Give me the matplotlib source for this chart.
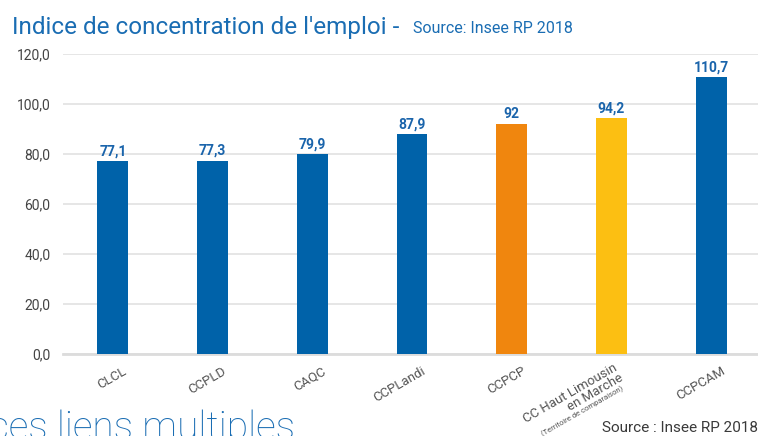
import matplotlib
matplotlib.use("Agg")
import matplotlib.pyplot as plt
import numpy as np

plt.rcParams['font.family'] = ['Roboto', 'DejaVu Sans']

# ---------------- data ----------------
categories = ["CLCL", "CCPLD", "CAQC", "CCPLandi", "CCPCP",
              "CC Haut Limousin\nen Marche", "CCPCAM"]
values = [77.1, 77.3, 79.9, 87.9, 92.0, 94.2, 110.7]
value_labels = ["77,1", "77,3", "79,9", "87,9", "92", "94,2", "110,7"]
bar_colors = ["#0062a9", "#0062a9", "#0062a9", "#0062a9",
              "#f0860e", "#fcbf12", "#0062a9"]
yticks = [0, 20, 40, 60, 80, 100, 120]

W, H = 758, 436
fig = plt.figure(figsize=(W / 100, H / 100), dpi=100)

# axes placed in pixel units (left 63, right 761, y0 at 354, y120 at 54)
ax = fig.add_axes([63 / W, (H - 354) / H, 698 / W, 300 / H])

x = np.arange(len(categories))
ax.bar(x, values, width=0.31, color=bar_colors, zorder=3)

for xi, v, lab in zip(x, values, value_labels):
    ax.annotate(lab, xy=(xi, v), xytext=(0, 2), textcoords="offset points",
                ha="center", va="bottom", fontsize=10, fontweight="bold",
                color="#1a64ab")

ax.set_xlim(-0.5, len(categories) - 0.5)
ax.set_ylim(0, 120)
ax.set_yticks(yticks)
ax.set_yticklabels([f"{t:.1f}".replace(".", ",") for t in yticks],
                   fontsize=10, color="#444444")
ax.tick_params(axis="y", length=0, pad=9)
ax.tick_params(axis="x", length=0)
ax.set_xticks([])
ax.grid(axis="y", color="#e2e2e2", linewidth=1.2, zorder=0)
for s in ["top", "right", "left"]:
    ax.spines[s].set_visible(False)
ax.spines["bottom"].set_color("#dcdcdc")
ax.spines["bottom"].set_linewidth(2)

# x category labels, rotated
for xi, lab in zip(x, categories):
    if "\n" in lab:
        ax.annotate(lab, xy=(xi, 0), xycoords=("data", "axes fraction"),
                    xytext=(1, -5), textcoords="offset points",
                    rotation=30, rotation_mode="anchor", ha="right", va="top",
                    multialignment="right", fontsize=9.5, color="#555555",
                    linespacing=0.95)
        ax.annotate("(Territoire de comparaison)", xy=(xi, 0),
                    xycoords=("data", "axes fraction"),
                    xytext=(7, -22), textcoords="offset points",
                    rotation=30, rotation_mode="anchor", ha="right", va="top",
                    fontsize=5.5, color="#555555")
    else:
        ax.annotate(lab, xy=(xi, 0), xycoords=("data", "axes fraction"),
                    xytext=(7, -7.5), textcoords="offset points",
                    rotation=30, rotation_mode="anchor", ha="right", va="top",
                    fontsize=9.5, color="#555555")

# title
fig.text(12 / W, 1 - 34 / H, "Indice de concentration de l'emploi -",
         fontsize=17.5, color="#1a6db3", va="baseline", ha="left")
fig.text(413 / W, 1 - 33 / H, "Source: Insee RP 2018",
         fontsize=11.5, color="#1a6db3", va="baseline", ha="left")

# bottom texts (cut off by the image border, as in the source page)
fig.text(-11 / W, 1 - 439 / H, "ces liens multiples", fontsize=28,
         fontweight="light", color="#1a6db3", va="baseline", ha="left")
fig.text(602 / W, 1 - 432 / H, "Source : Insee RP 2018", fontsize=11,
         color="#3a3a3a", va="baseline", ha="left")

fig.savefig("out.png", dpi=100)
